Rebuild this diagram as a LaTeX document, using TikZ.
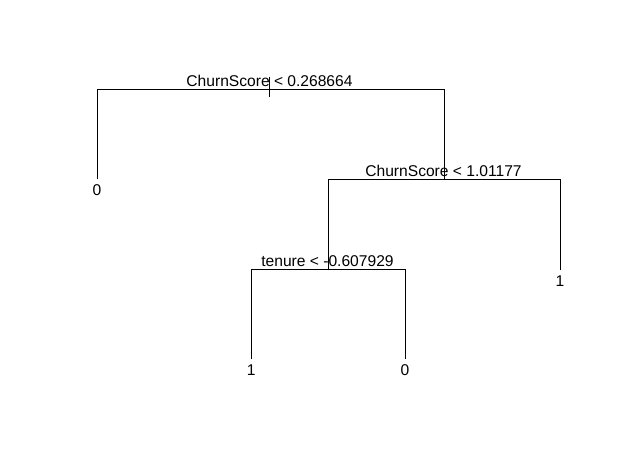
\documentclass[tikz,border=0pt]{standalone}
\usepackage{fontspec}
\setmainfont{Liberation Sans}
\begin{document}
\begin{tikzpicture}[x=1pt, y=-1pt, line width=1pt,
		split/.style={anchor=base, inner sep=0pt, font=\fontsize{15.6}{18}\selectfont},
		leaf/.style={anchor=north, inner xsep=0pt, inner ysep=5pt, font=\fontsize{15.6}{18}\selectfont}]
		\useasboundingbox (0, 0) rectangle (619, 468);
		% split points
		\coordinate (root) at (269.3, 89.3);
		\coordinate (rootL) at (97, 89.3);
		\coordinate (rootR) at (444.3, 89.3);
		\coordinate (cs) at (444.3, 179.3);
		\coordinate (csL) at (328.3, 179.3);
		\coordinate (csR) at (560, 179.3);
		\coordinate (ten) at (328.3, 269.3);
		\coordinate (tenL) at (251.3, 269.3);
		\coordinate (tenR) at (405, 269.3);
		% leaf ends
		\coordinate (leafA) at (97, 179);
		\coordinate (leafB) at (560, 270);
		\coordinate (leafC) at (251.3, 359.3);
		\coordinate (leafD) at (405, 359.3);
		% root
		\path[draw] (269.3, 77) -- (269.3, 97);
		\path[draw] (leafA) -- (rootL) -- (rootR) -- (cs);
		\node[split] (rootlab) at (269.5, 86.6) {ChurnScore < 0.268664};
		\node[leaf] (leaf0a) at (leafA) {0};
		% second split
		\path[draw] (ten) -- (csL) -- (csR) -- (leafB);
		\node[split] (cslab) at (443.5, 176.6) {ChurnScore < 1.01177};
		\node[leaf] (leaf1b) at (leafB) {1};
		% third split
		\path[draw] (leafC) -- (tenL) -- (tenR) -- (leafD);
		\node[split] (tenlab) at (327.5, 266.3) {tenure < -0.607929};
		\node[leaf] (leaf1c) at (leafC) {1};
		\node[leaf] (leaf0d) at (leafD) {0};
	\end{tikzpicture}
\end{document}
